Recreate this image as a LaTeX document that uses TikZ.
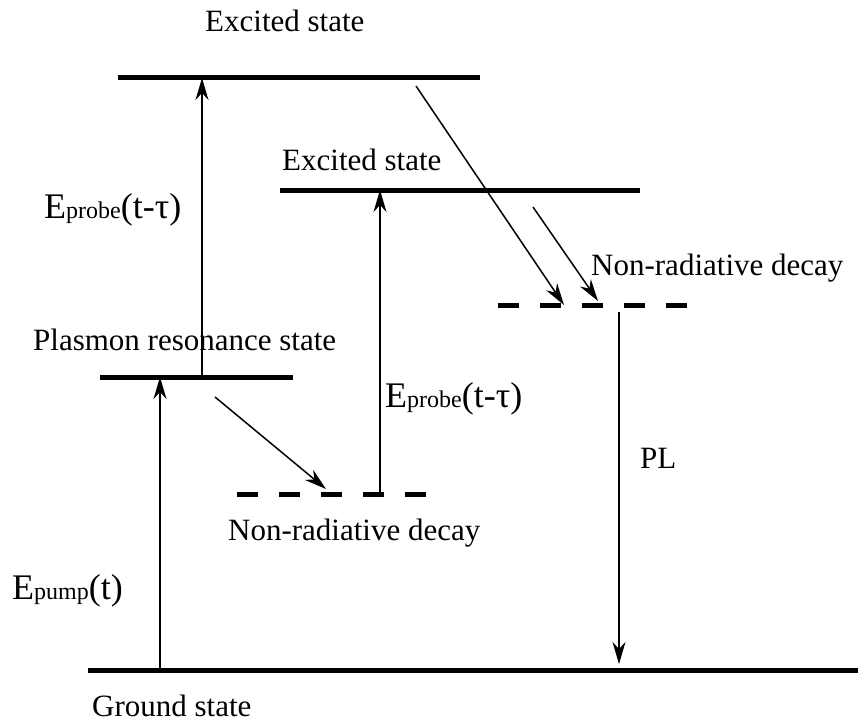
\documentclass[tikz,border=0pt]{standalone}
\usepackage{fontspec}
\setmainfont{Liberation Serif}
\usetikzlibrary{arrows.meta}
\begin{document}
\begin{tikzpicture}[x=1pt,y=-1pt,
  level/.style={line width=5pt},
  dlevel/.style={line width=5pt,dash pattern=on 21pt off 21pt},
  arr/.style={line width=1.5pt,-{Stealth[length=22pt,width=13pt,inset=7pt]}},
  lbl/.style={inner sep=0pt,anchor=base west,font=\fontsize{31}{36}\selectfont},
  elbl/.style={inner sep=0pt,anchor=base west,font=\fontsize{36}{40}\selectfont}]
\useasboundingbox (0,0) rectangle (858,722);
% levels
\coordinate (e1a) at (118,78);  \coordinate (e1b) at (480,78);
\coordinate (e2a) at (280,190); \coordinate (e2b) at (640,190);
\coordinate (pla) at (100,377); \coordinate (plb) at (293,377);
\coordinate (d1a) at (237,494); \coordinate (d1b) at (427,494);
\coordinate (d2a) at (498,305); \coordinate (d2b) at (690,305);
\coordinate (ga) at (88,670);   \coordinate (gb) at (858,670);
\draw[level] (e1a) -- (e1b);
\draw[level] (e2a) -- (e2b);
\draw[level] (pla) -- (plb);
\draw[level] (ga) -- (gb);
\draw[dlevel] (d1a) -- (d1b);
\draw[dlevel] (d2a) -- (d2b);
% arrow end points
\coordinate (p0) at (160,670); \coordinate (p1) at (160,377);
\coordinate (q0) at (202,377); \coordinate (q1) at (202,78);
\coordinate (r0) at (380,494); \coordinate (r1) at (380,190);
\coordinate (s0) at (215,397); \coordinate (s1) at (326,489);
\coordinate (t0) at (416,86);  \coordinate (t1) at (564,305);
\coordinate (u0) at (533,207); \coordinate (u1) at (598,301);
\coordinate (v0) at (619,312); \coordinate (v1) at (619,664);
\draw[arr] (p0) -- (p1);
\draw[arr] (q0) -- (q1);
\draw[arr] (r0) -- (r1);
\draw[arr] (s0) -- (s1);
\draw[arr] (t0) -- (t1);
\draw[arr] (u0) -- (u1);
\draw[arr] (v0) -- (v1);
% labels
\node[lbl] (l1) at (205,32) {Excited state};
\node[lbl] (l2) at (282,170) {Excited state};
\node[lbl] (l3) at (33,350) {Plasmon resonance state};
\node[lbl] (l4) at (591,275) {Non-radiative decay};
\node[lbl] (l5) at (228,540) {Non-radiative decay};
\node[lbl] (l6) at (640,468) {PL};
\node[lbl] (l7) at (92,716) {Ground state};
\node[elbl] (l8) at (44,218) {E{\fontsize{24}{28}\selectfont probe}(t-τ)};
\node[elbl] (l9) at (385,407) {E{\fontsize{24}{28}\selectfont probe}(t-τ)};
\node[elbl] (l10) at (12,599) {E{\fontsize{24}{28}\selectfont pump}(t)};
\end{tikzpicture}
\end{document}
